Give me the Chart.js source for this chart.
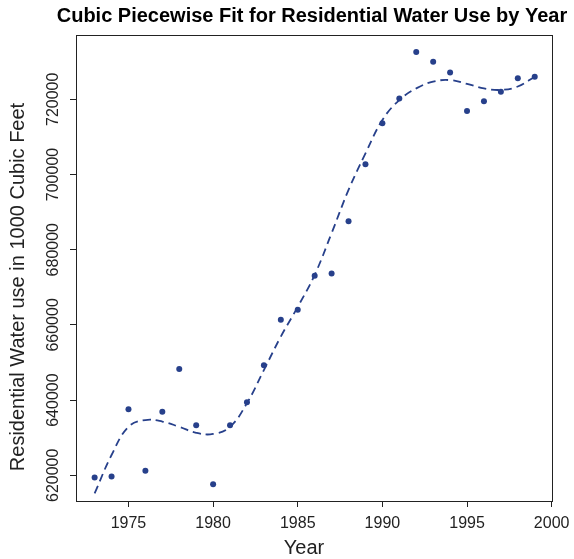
<!DOCTYPE html>
<html>
<head>
<meta charset="utf-8">
<script src="https://cdn.jsdelivr.net/npm/chart.js@4.4.1/dist/chart.umd.min.js"></script>
<style>
  html, body { margin: 0; padding: 0; background: #fff; }
  #wrap { width: 574px; height: 559px; position: relative; }
</style>
</head>
<body>
<div id="wrap"><canvas id="chart"></canvas></div>
<script>
var years = [1973, 1974, 1975, 1976, 1977, 1978, 1979, 1980, 1981, 1982, 1983, 1984, 1985, 1986,
             1987, 1988, 1989, 1990, 1991, 1992, 1993, 1994, 1995, 1996, 1997, 1998, 1999];
var waterUse = [619400, 619700, 637600, 621200, 636900, 648300, 633300, 617600, 633300, 639400, 649300, 661400, 664000, 673100,
                673700, 687600, 702700, 713600, 720200, 732600, 730000, 727100, 716900, 719500, 722000, 725600, 726000];
var fitted = [615200, 625400, 632900, 634700, 634300, 632900, 631300, 631000, 632900, 639200, 648000, 656900, 664800, 673300,
              684400, 695900, 705600, 714500, 719800, 722900, 724700, 725100, 724100, 722900, 722500, 723400, 726000];
var xTicks = [1975, 1980, 1985, 1990, 1995, 2000];
var yTicks = [620000, 640000, 660000, 680000, 700000, 720000];

var blue = '#27408B';
var font = '"Liberation Sans", Arial, Helvetica, sans-serif';

function toPoints(xs, ys) {
  return xs.map(function(x, i) { return { x: x, y: ys[i] }; });
}

// draws the frame and all the text the R way
var frame = {
  id: 'frame',
  afterDraw: function(chart) {
    var ctx = chart.ctx;
    var a = chart.chartArea;
    var xs = chart.scales.x, ys = chart.scales.y;
    ctx.save();
    ctx.strokeStyle = '#222';
    ctx.lineWidth = 1;
    ctx.strokeRect(Math.round(a.left) + 0.5, Math.round(a.top) + 0.5,
                   Math.round(a.right - a.left), Math.round(a.bottom - a.top));

    ctx.fillStyle = '#000';
    ctx.font = 'bold 20px ' + font;
    ctx.textAlign = 'center';
    ctx.textBaseline = 'alphabetic';
    ctx.fillText('Cubic Piecewise Fit for Residential Water Use by Year', 312, 22);

    ctx.textBaseline = 'middle';
    ctx.fillStyle = '#222';
    ctx.font = '16px ' + font;
    xTicks.forEach(function(t) {
      ctx.fillText(String(t), xs.getPixelForValue(t), a.bottom + 23);
    });
    ctx.font = '20px ' + font;
    ctx.fillText('Year', 304, a.bottom + 47);

    ctx.font = '16px ' + font;
    yTicks.forEach(function(t) {
      ctx.save();
      ctx.translate(a.left - 22, ys.getPixelForValue(t));
      ctx.rotate(-Math.PI / 2);
      ctx.fillText(String(t), 0, 0);
      ctx.restore();
    });
    ctx.save();
    ctx.font = '20px ' + font;
    ctx.translate(18, 287);
    ctx.rotate(-Math.PI / 2);
    ctx.fillText('Residential Water use in 1000 Cubic Feet', 0, 0);
    ctx.restore();
    ctx.restore();
  }
};

new Chart(document.getElementById('chart'), {
  type: 'scatter',
  data: {
    datasets: [{
      label: 'Fit',
      data: toPoints(years, fitted),
      showLine: true,
      borderColor: blue,
      borderWidth: 1.8,
      borderDash: [8, 5],
      tension: 0.4,
      pointRadius: 0,
      fill: false
    }, {
      label: 'Water use',
      data: toPoints(years, waterUse),
      pointRadius: 3,
      pointBackgroundColor: blue,
      pointBorderWidth: 0,
      showLine: false
    }]
  },
  options: {
    responsive: true,
    maintainAspectRatio: false,
    animation: false,
    layout: { padding: { top: 35, right: 22, left: 0, bottom: 0 } },
    plugins: { legend: { display: false }, tooltip: { enabled: false }, title: { display: false } },
    scales: {
      x: {
        type: 'linear',
        min: 1971.9,
        max: 2000.02,
        afterBuildTicks: function(s) { s.ticks = xTicks.map(function(v) { return { value: v }; }); },
        afterFit: function(s) { s.height = 58; },
        ticks: { display: false },
        grid: { drawOnChartArea: false, drawTicks: true, tickLength: 6, color: '#222' },
        border: { display: false }
      },
      y: {
        type: 'linear',
        min: 613170,
        max: 737100,
        afterBuildTicks: function(s) { s.ticks = yTicks.map(function(v) { return { value: v }; }); },
        afterFit: function(s) { s.width = 76; },
        ticks: { display: false },
        grid: { drawOnChartArea: false, drawTicks: true, tickLength: 6, color: '#222' },
        border: { display: false }
      }
    }
  },
  plugins: [frame]
});
</script>
</body>
</html>
